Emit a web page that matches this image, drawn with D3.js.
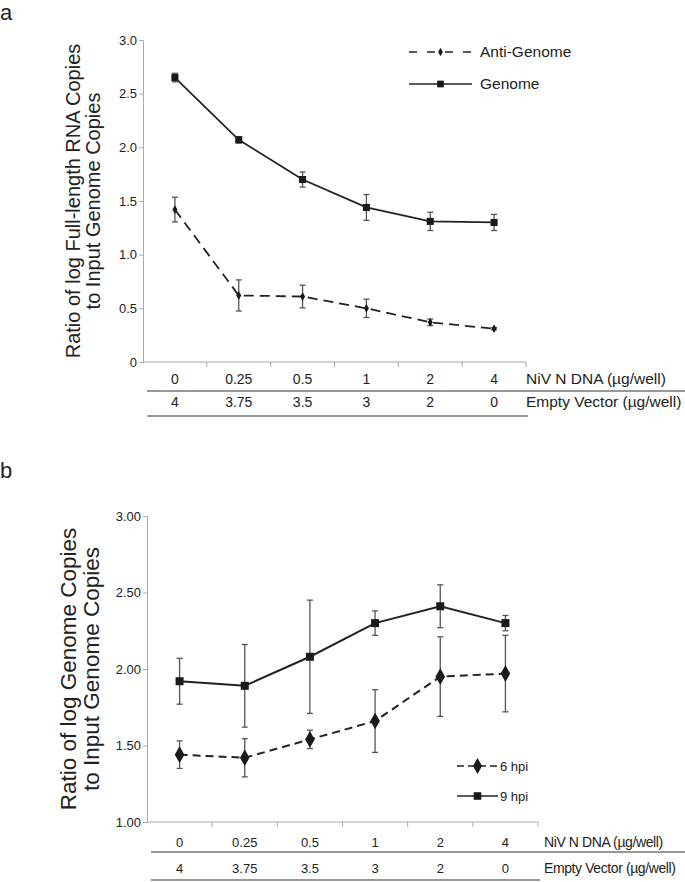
<!DOCTYPE html>
<html lang="en">
<head>
<meta charset="UTF-8">
<title>NiV N DNA titration</title>
<script src="https://d3js.org/d3.v7.min.js"></script>
<style>
  body { margin: 0; background: #fff; }
  svg { font-family: "Liberation Sans", Arial, sans-serif; }
  .axis path, .axis line { stroke: #aaa; }
  .axis text { fill: #222; }
</style>
</head>
<body>
<script>
// categories / table rows
const nivDna = ["0", "0.25", "0.5", "1", "2", "4"];
const emptyVector = ["4", "3.75", "3.5", "3", "2", "0"];

// panel a: ratio of log full-length RNA copies
const genomeA = [2.65, 2.07, 1.70, 1.44, 1.31, 1.30];
const genomeAErr = [0.04, 0.03, 0.07, 0.12, 0.085, 0.075];
const antiGenomeA = [1.42, 0.62, 0.61, 0.50, 0.37, 0.31];
const antiGenomeAErr = [0.115, 0.145, 0.105, 0.085, 0.03, 0.01];
const ticksA = [0, 0.5, 1.0, 1.5, 2.0, 2.5, 3.0];

// panel b: ratio of log genome copies
const hpi9 = [1.92, 1.89, 2.08, 2.30, 2.41, 2.30];
const hpi9Err = [0.15, 0.27, 0.37, 0.08, 0.14, 0.05];
const hpi6 = [1.44, 1.42, 1.54, 1.66, 1.95, 1.97];
const hpi6Err = [0.09, 0.125, 0.06, 0.205, 0.26, 0.25];
const ticksB = [1.0, 1.5, 2.0, 2.5, 3.0];

const svg = d3.select("body").append("svg")
    .attr("width", 685).attr("height", 882);

function drawPanel(p) {
    const g = svg.append("g");
    const x = d3.scaleBand().domain(nivDna).range([p.left, p.right]);
    const cx = d => x(d) + x.bandwidth() / 2;
    const y = d3.scaleLinear().domain(p.domain).range([p.bottom, p.top]);

    // y axis
    g.append("g").attr("class", "axis")
        .attr("transform", `translate(${p.left},0)`)
        .call(d3.axisLeft(y).tickValues(p.ticks).tickSize(4).tickPadding(2).tickFormat(p.fmt))
        .call(a => a.selectAll("text").style("font-size", "13px"));

    // x axis with ticks between categories
    const xa = g.append("g").attr("class", "axis");
    xa.append("line").attr("x1", p.left).attr("x2", p.right)
        .attr("y1", p.bottom).attr("y2", p.bottom);
    xa.selectAll(".tk").data(nivDna).enter().append("line")
        .attr("x1", d => x(d) + x.bandwidth()).attr("x2", d => x(d) + x.bandwidth())
        .attr("y1", p.bottom).attr("y2", p.bottom + 5);

    // y title
    const t = g.append("text")
        .attr("transform", `translate(${p.titleX},${(p.top + p.bottom) / 2}) rotate(-90)`)
        .attr("text-anchor", "middle").style("font-size", p.titleFont).attr("fill", "#222");
    t.append("tspan").attr("x", 0).attr("dy", 0).text(p.title[0]);
    t.append("tspan").attr("x", 0).attr("dy", "1.02em").text(p.title[1]);

    // series
    p.series.forEach(s => {
        const line = d3.line().x((d, i) => cx(nivDna[i])).y(d => y(d));
        g.append("path").datum(s.values)
            .attr("d", line).attr("fill", "none").attr("stroke", "#222")
            .attr("stroke-width", p.lineWidth)
            .attr("stroke-dasharray", s.dash || null);

        s.values.forEach((v, i) => {
            const xx = cx(nivDna[i]);
            const e = s.err[i];
            g.append("line").attr("x1", xx).attr("x2", xx)
                .attr("y1", y(v - e)).attr("y2", y(v + e))
                .attr("stroke", "#555").attr("stroke-width", 1.3);
            [v - e, v + e].forEach(c => g.append("line")
                .attr("x1", xx - 3).attr("x2", xx + 3)
                .attr("y1", y(c)).attr("y2", y(c))
                .attr("stroke", "#555").attr("stroke-width", 1.3));
        });

        g.selectAll(null).data(s.values).enter().append("path")
            .attr("transform", (d, i) => `translate(${cx(nivDna[i])},${y(d)})`)
            .attr("d", d3.symbol().type(s.symbol).size(s.size))
            .attr("fill", "#1a1a1a");

        // legend entry
        const lg = g.append("g").attr("transform", `translate(${s.legend[0]},${s.legend[1]})`);
        lg.append("line").attr("x1", 0).attr("x2", p.legendLen).attr("y1", 0).attr("y2", 0)
            .attr("stroke", "#222").attr("stroke-width", p.lineWidth * 0.8)
            .attr("stroke-dasharray", s.legendDash || null);
        lg.append("path").attr("transform", `translate(${p.legendLen / 2},0)`)
            .attr("d", d3.symbol().type(s.symbol).size(s.size * 0.9)).attr("fill", "#1a1a1a");
        lg.append("text").attr("x", p.legendLen + p.legendGap).attr("y", 0).attr("dy", "0.35em")
            .style("font-size", p.legendFont)
            .attr("fill", "#222").text(s.name);
    });

    // table underneath
    const rows = [nivDna, emptyVector];
    const rowLabels = ["NiV N DNA (\u00b5g/well)", "Empty Vector (\u00b5g/well)"];
    rows.forEach((r, ri) => {
        const ry = p.rowY[ri];
        g.selectAll(null).data(r).enter().append("text")
            .attr("x", (d, i) => cx(nivDna[i])).attr("y", ry).attr("dy", "0.35em")
            .attr("text-anchor", "middle").style("font-size", p.numFont)
            .attr("fill", "#222").text(d => d);
        g.append("text").attr("x", p.right + p.labelGap).attr("y", ry).attr("dy", "0.35em")
            .style("font-size", p.labelFont).style("letter-spacing", p.labelSpacing)
            .attr("fill", "#222").text(rowLabels[ri]);
        g.append("line").attr("x1", p.left + 4).attr("x2", ri === 0 ? 685 : p.right + 2)
            .attr("y1", p.lineY[ri]).attr("y2", p.lineY[ri])
            .attr("stroke", "#333").attr("stroke-width", 1.2);
    });

    svg.append("text").attr("x", 0).attr("y", p.tag[1])
        .style("font-size", "22px").attr("fill", "#222").text(p.tag[0]);
}

drawPanel({
    left: 143, right: 526, top: 40, bottom: 362, domain: [0, 3],
    ticks: ticksA, fmt: d => d === 0 ? "0" : d3.format(".1f")(d),
    title: ["Ratio of log Full-length RNA Copies", "to Input Genome Copies"], titleX: 80, titleFont: "20px",
    lineWidth: 1.8, legendLen: 63, legendGap: 8, legendFont: "15.5px",
    series: [
        { name: "Anti-Genome", values: antiGenomeA, err: antiGenomeAErr, dash: "10,6",
          legendDash: "8,10", symbol: d3.symbolDiamond, size: 22, legend: [409, 52] },
        { name: "Genome", values: genomeA, err: genomeAErr, symbol: d3.symbolSquare,
          size: 50, legend: [409, 84] }
    ],
    rowY: [379, 402], lineY: [391, 416], numFont: "14px", labelFont: "15.5px", labelSpacing: "0px",
    labelGap: 0, tag: ["a", 20]
});

drawPanel({
    left: 147, right: 538, top: 516, bottom: 822, domain: [1, 3],
    ticks: ticksB, fmt: d3.format(".2f"),
    title: ["Ratio of log Genome Copies", "to Input Genome Copies"], titleX: 76, titleFont: "22.5px",
    lineWidth: 2, legendLen: 41, legendGap: 2, legendFont: "13px",
    series: [
        { name: "6 hpi", values: hpi6, err: hpi6Err, dash: "8,5", legendDash: "7,4",
          symbol: d3.symbolDiamond, size: 80, legend: [457, 766] },
        { name: "9 hpi", values: hpi9, err: hpi9Err, symbol: d3.symbolSquare,
          size: 64, legend: [457, 796] }
    ],
    rowY: [842, 868], lineY: [852, 880], numFont: "13px", labelFont: "14px", labelSpacing: "-0.4px",
    labelGap: 6, tag: ["b", 478]
});
</script>
</body>
</html>
